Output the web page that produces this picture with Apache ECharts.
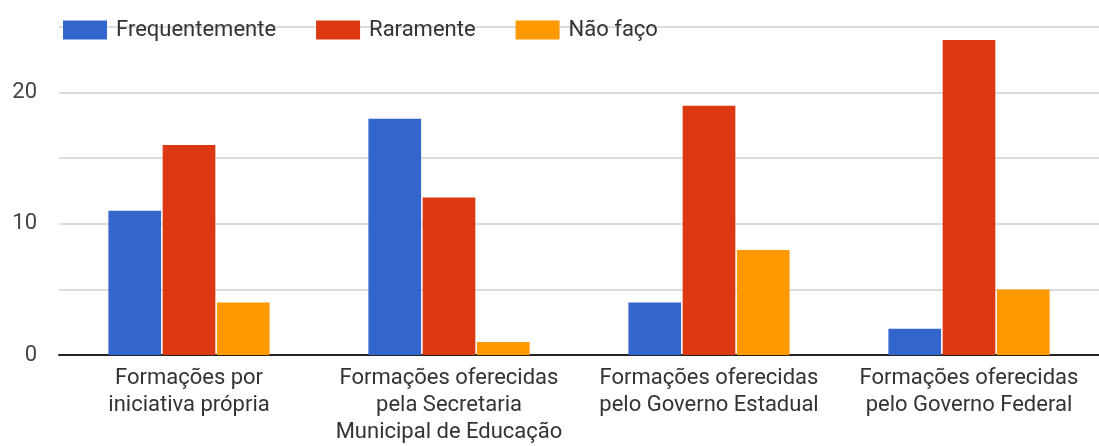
<!DOCTYPE html>
<html><head><meta charset="utf-8">
<script src="https://cdn.jsdelivr.net/npm/echarts@6/dist/echarts.min.js"></script>
<style>html,body{margin:0;padding:0;background:#fff}#c{width:1099px;height:446px}</style>
</head><body><div id="c"></div>
<script>
const categories = ['Formações por\niniciativa própria', 'Formações oferecidas\npela Secretaria\nMunicipal de Educação', 'Formações oferecidas\npelo Governo Estadual', 'Formações oferecidas\npelo Governo Federal'];
const seriesNames = ['Frequentemente', 'Raramente', 'Não faço'];
const frequentemente = [11, 18, 4, 2];
const raramente = [16, 12, 19, 24];
const naoFaco = [4, 1, 8, 5];
const yTickLabels = { 0: '0', 10: '10', 20: '20' };
const colors = ['#3366CC', '#DC3912', '#FF9900'];

const chart = echarts.init(document.getElementById('c'), null, { renderer: 'canvas' });
const font = 'Roboto, "Noto Sans", Arial, sans-serif';
chart.setOption({
  animation: false,
  color: colors,
  textStyle: { fontFamily: font },
  legend: {
    left: 58, top: 14,
    itemWidth: 44, itemHeight: 19, itemGap: 40,
    icon: 'rect',
    textStyle: { fontSize: 22, color: '#333', fontFamily: font, padding: [0, 0, 0, 4] },
    data: seriesNames
  },
  grid: { left: 59, right: 0, top: 27, bottom: 89, containLabel: false },
  xAxis: {
    type: 'category', data: categories,
    axisLine: { lineStyle: { color: '#222', width: 2 } },
    axisTick: { show: false },
    axisLabel: { fontSize: 22, color: '#333', lineHeight: 27, margin: 10, interval: 0, fontFamily: font }
  },
  yAxis: {
    type: 'value', min: 0, max: 25, interval: 5,
    axisLine: { show: false }, axisTick: { show: false },
    splitLine: { lineStyle: { color: '#d0d0d0', width: 1.5 } },
    axisLabel: {
      fontSize: 22, color: '#444', margin: 22, fontFamily: font,
      formatter: v => (yTickLabels[v] !== undefined ? yTickLabels[v] : '')
    }
  },
  series: [
    { name: seriesNames[0], type: 'bar', data: frequentemente, barGap: '3%', barCategoryGap: '38%' },
    { name: seriesNames[1], type: 'bar', data: raramente, barGap: '3%', barCategoryGap: '38%' },
    { name: seriesNames[2], type: 'bar', data: naoFaco, barGap: '3%', barCategoryGap: '38%' }
  ]
});
</script></body></html>
